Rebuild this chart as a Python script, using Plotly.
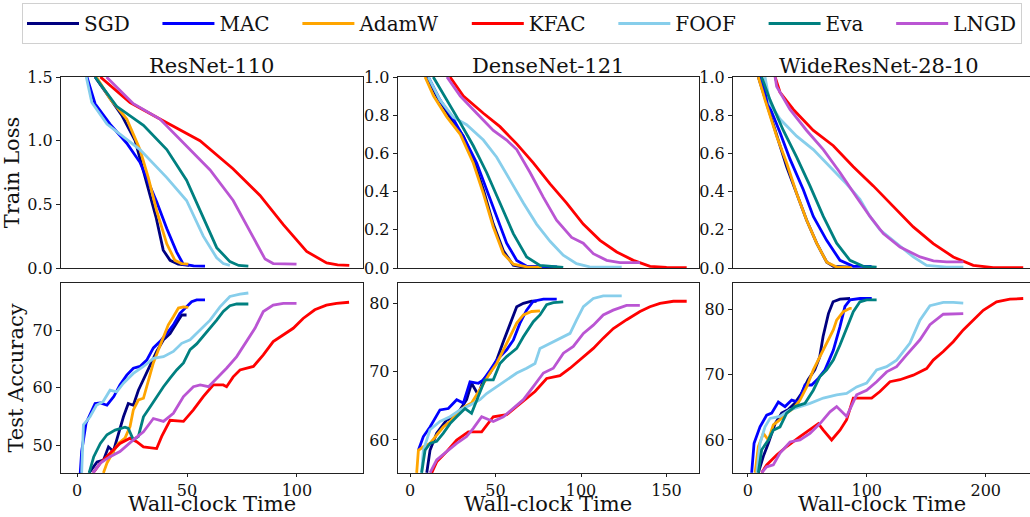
import plotly.graph_objects as go

# ---------------- data ----------------
METHODS = ["SGD", "MAC", "AdamW", "KFAC", "FOOF", "Eva", "LNGD"]
COLORS = ["#000080", "#0000ff", "#ffa500", "#ff0000", "#87ceeb", "#008080", "#ba55d3"]
MODELS = ["ResNet-110", "DenseNet-121", "WideResNet-28-10"]
X_TITLE = "Wall-clock Time"

# ResNet-110 train loss
resnet_loss = {
    "SGD": ([8.2, 15, 20.3, 26.4, 31.7, 35.9, 39.2, 42.3, 46, 51],
            [1.5, 1.33, 1.2, 1.0, 0.665, 0.40, 0.14, 0.06, 0.03, 0.02]),
    "MAC": ([4.5, 8.2, 15, 22.6, 28.6, 32.4, 36.2, 40.8, 45.3, 48.3, 53, 58.2],
            [1.5, 1.29, 1.13, 0.98, 0.83, 0.68, 0.52, 0.31, 0.125, 0.03, 0.017, 0.015]),
    "AdamW": ([8.8, 15, 22.6, 28.6, 32.4, 36.2, 40.8, 44.5, 47.5, 50.6],
              [1.5, 1.33, 1.17, 0.93, 0.71, 0.45, 0.19, 0.06, 0.035, 0.03]),
    "KFAC": ([10.6, 24.1, 37.7, 55.9, 70.9, 83.2, 93.8, 104.4, 113.5, 118.5, 123.8],
             [1.5, 1.3, 1.17, 1.0, 0.78, 0.57, 0.34, 0.13, 0.04, 0.025, 0.02]),
    "FOOF": ([4.2, 6.7, 13.6, 19.7, 28.6, 40.8, 49.8, 57.4, 63.5, 66.5, 69.5],
             [1.5, 1.3, 1.13, 1.05, 0.93, 0.71, 0.53, 0.25, 0.08, 0.035, 0.02]),
    "Eva": ([8.2, 18, 30.2, 40.8, 49.8, 57.4, 63.5, 69.5, 73.5, 77.9],
            [1.5, 1.27, 1.12, 0.93, 0.69, 0.40, 0.16, 0.05, 0.02, 0.015]),
    "LNGD": ([13.4, 25.6, 37.7, 49.8, 60.5, 71, 78.6, 85.5, 89.2, 99.8],
             [1.5, 1.29, 1.17, 0.96, 0.77, 0.53, 0.29, 0.07, 0.035, 0.03]),
}

# DenseNet-121 train loss
densenet_loss = {
    "SGD": ([9.7, 15.6, 23.4, 31.2, 37, 42.9, 48.7, 54.6, 60.4, 66.3, 74],
            [1.0, 0.90, 0.79, 0.69, 0.57, 0.41, 0.23, 0.09, 0.014, 0.005, 0.004]),
    "MAC": ([10.7, 17.5, 25.3, 32.2, 39, 44.8, 50.7, 56.5, 62.4, 68.2, 86],
            [1.0, 0.88, 0.78, 0.67, 0.55, 0.41, 0.27, 0.13, 0.04, 0.01, 0.006]),
    "AdamW": ([8.8, 13.8, 21.6, 29.4, 37, 42.9, 48.7, 54.6, 60.4, 68.2, 77],
              [1.0, 0.90, 0.79, 0.70, 0.55, 0.39, 0.215, 0.075, 0.02, 0.006, 0.005]),
    "KFAC": ([23.4, 31.2, 42.9, 52.6, 62.4, 72.1, 81.9, 91.6, 101.3, 111.1, 120.9, 130.6, 140.4, 150, 161.8],
             [1.0, 0.90, 0.81, 0.74, 0.65, 0.55, 0.44, 0.34, 0.23, 0.145, 0.084, 0.04, 0.009, 0.003, 0.002]),
    "FOOF": ([10.7, 17.5, 25.3, 33.1, 42.9, 50.7, 58.5, 66.3, 74, 81.9, 89.6, 97.4, 105, 123.8],
             [1.0, 0.88, 0.79, 0.75, 0.67, 0.58, 0.46, 0.34, 0.23, 0.14, 0.067, 0.023, 0.006, 0.005]),
    "Eva": ([13.6, 21.6, 29.4, 37, 44.8, 52.6, 60.4, 68.2, 76, 89.6],
            [1.0, 0.88, 0.76, 0.64, 0.50, 0.34, 0.18, 0.058, 0.014, 0.003]),
    "LNGD": ([21.6, 29.4, 39, 48.7, 56.5, 62.4, 70.2, 78, 85.7, 94.5, 101.3, 107.2, 115, 122.8, 134.5],
             [1.0, 0.90, 0.81, 0.72, 0.67, 0.62, 0.50, 0.37, 0.25, 0.16, 0.13, 0.075, 0.04, 0.028, 0.028]),
}

# WideResNet-28-10 train loss
wrn_loss = {
    "SGD": ([8.9, 16, 24.3, 32.7, 41.1, 49.5, 57.9, 66.4, 72, 86],
            [1.0, 0.86, 0.69, 0.53, 0.39, 0.25, 0.13, 0.03, 0.009, 0.005]),
    "MAC": ([10.3, 17.3, 27.1, 35.5, 46.7, 55.1, 66.3, 77.5, 88.7, 104],
            [1.0, 0.86, 0.71, 0.57, 0.41, 0.27, 0.145, 0.04, 0.009, 0.009]),
    "AdamW": ([8.9, 14.5, 24.3, 32.7, 41.1, 49.5, 57.9, 66.4, 74.8, 87.4],
              [1.0, 0.88, 0.69, 0.55, 0.39, 0.25, 0.13, 0.03, 0.005, 0.002]),
    "KFAC": ([23, 27.1, 38.3, 55.1, 71.9, 88.7, 105.5, 122.3, 139.1, 155.9, 172.7, 189.5, 206.3, 231.5],
             [1.0, 0.92, 0.83, 0.72, 0.64, 0.53, 0.43, 0.32, 0.215, 0.128, 0.058, 0.014, 0.002, 0.002]),
    "FOOF": ([14.5, 18.7, 27.1, 41.1, 55.1, 69.1, 83.1, 94.3, 102.7, 111.1, 125.1, 139.1, 150.3, 167, 181.2],
             [1.0, 0.86, 0.78, 0.69, 0.62, 0.53, 0.44, 0.36, 0.27, 0.20, 0.13, 0.058, 0.014, 0.005, 0.005]),
    "Eva": ([11.7, 18.7, 29.9, 41.1, 52.3, 63.5, 74.7, 85.9, 97.1, 108.3],
            [1.0, 0.88, 0.72, 0.58, 0.43, 0.27, 0.13, 0.04, 0.009, 0.005]),
    "LNGD": ([23, 24.3, 35.5, 49.5, 63.5, 77.5, 91.5, 102.7, 113.9, 128, 144.8, 156, 167.2, 181.2],
             [1.0, 0.95, 0.83, 0.72, 0.62, 0.50, 0.37, 0.27, 0.18, 0.11, 0.058, 0.037, 0.032, 0.032]),
}

# ResNet-110 test accuracy
resnet_acc = {
    "SGD": ([5.5, 9.1, 12, 14.3, 16.5, 18.8, 21.1, 23.3, 25.6, 27.9, 30.2, 33.2, 36.2, 39.3, 42.3, 45.3, 47.6, 49.8],
            [45.3, 47.2, 47.5, 49.8, 49.0, 52.1, 55.0, 57.3, 57.0, 59.6, 61.4, 63.7, 66.3, 68.3, 69.4, 71.2, 72.6, 72.6]),
    "MAC": ([1.4, 2.1, 4.1, 8.2, 10.6, 13.6, 16.7, 19.5, 22.6, 25.6, 28.6, 31.7, 34.7, 37.7, 40.8, 43.8, 46.8, 49.8, 52.1, 54.4, 58.2],
            [45.0, 49.0, 53.9, 57.3, 57.4, 57.0, 58.5, 60.5, 62.2, 63.4, 63.7, 64.8, 66.9, 68.0, 69.4, 70.9, 72.9, 74.0, 74.9, 75.2, 75.2]),
    "AdamW": ([12, 13.6, 16.5, 18.8, 21.8, 24.1, 25.6, 27.9, 30.2, 32.4, 34.7, 37, 39.3, 41.5, 43.8, 46.1, 48.4, 50.6],
              [45.3, 47.0, 49.0, 50.4, 51.3, 53.3, 56.2, 57.9, 58.2, 61.4, 64.3, 66.6, 68.9, 70.9, 72.3, 73.8, 74.0, 73.9]),
    "KFAC": ([7.3, 10.6, 15, 19.5, 24.1, 27.1, 30.2, 36.2, 38.5, 42.3, 48.4, 52.9, 57.4, 61.9, 66.5, 68, 71, 74.1, 80.2, 84.7, 89.2, 93.8, 98.3, 102.8, 108.1, 113.4, 118, 123.7],
             [45.3, 47.0, 48.7, 50.4, 51.3, 50.7, 49.8, 49.5, 51.6, 54.4, 54.2, 56.2, 58.5, 60.5, 60.5, 60.2, 61.9, 63.1, 63.7, 65.7, 68.0, 69.2, 70.3, 72.0, 73.5, 74.3, 74.6, 74.8]),
    "FOOF": ([2.1, 2.9, 5.9, 8.8, 11.8, 15, 18, 21.1, 25.6, 30.2, 34.7, 39.3, 43.8, 47.6, 51.4, 56, 60.5, 65, 69.5, 74.1, 77.9],
             [45.3, 53.6, 55.0, 57.0, 57.6, 59.6, 59.3, 60.8, 62.5, 63.7, 65.1, 65.4, 66.3, 67.7, 68.3, 70.0, 71.7, 74.0, 75.8, 76.2, 76.4]),
    "Eva": ([5.5, 7.6, 10.6, 13.6, 17.3, 21.8, 23.3, 25.6, 27.9, 30.2, 33.2, 36.2, 39.3, 42.3, 45.3, 48.4, 51.4, 54.4, 57.4, 60.5, 63.5, 66.5, 69.5, 72.6, 77.9],
            [45.3, 48.1, 50.4, 51.9, 52.7, 53.2, 53.0, 51.0, 51.6, 55.0, 56.7, 58.5, 60.2, 61.7, 63.1, 64.3, 66.6, 67.6, 68.9, 70.3, 71.7, 73.2, 74.2, 74.5, 74.5]),
    "LNGD": ([7.3, 10.6, 15, 19.5, 25.6, 30.2, 34.7, 39.3, 43.8, 48.4, 52.9, 56, 59.8, 63.5, 68, 72.6, 77.1, 80.9, 84.7, 89.2, 93.8, 99.8],
             [45.3, 47.0, 48.1, 49.0, 51.0, 52.4, 54.7, 54.2, 55.6, 58.5, 60.2, 60.5, 60.2, 61.6, 63.4, 65.4, 68.0, 70.3, 73.2, 74.3, 74.6, 74.6]),
}

# DenseNet-121 test accuracy
densenet_acc = {
    "SGD": ([9.8, 11.7, 15.6, 21.4, 25.3, 29.2, 33.1, 36, 39.9, 42.9, 46.8, 50.7, 54.6, 58.5, 62.4, 66.3, 71.1, 74],
            [55.2, 58.5, 61.0, 62.9, 63.4, 64.4, 65.9, 68.3, 66.6, 68.8, 69.8, 71.7, 74.4, 77.1, 79.5, 80.0, 80.3, 80.3]),
    "MAC": ([4.9, 7.8, 11.7, 17.5, 22.4, 27.3, 31.2, 35.1, 40, 42.9, 46.8, 50.7, 56.5, 60.4, 64.3, 68.2, 72.1, 78, 85.8],
            [58.5, 60.5, 61.9, 64.4, 64.6, 65.9, 65.4, 68.5, 68.3, 68.8, 70.2, 71.7, 73.2, 74.6, 77.1, 79.0, 80.3, 80.6, 80.6]),
    "AdamW": ([3.9, 4.9, 7.8, 11.7, 15.6, 19.5, 23.4, 27.3, 32.2, 36, 38.9, 42.9, 46.8, 50.7, 54.6, 58.5, 62.4, 66.3, 71.1, 76],
              [55.2, 58.5, 59.0, 59.5, 60.7, 61.9, 62.7, 63.9, 64.9, 65.4, 66.6, 68.3, 69.8, 71.2, 73.2, 75.1, 77.1, 78.3, 78.8, 78.9]),
    "KFAC": ([12.7, 15.6, 21.4, 27.3, 34.1, 41.9, 48.7, 56.5, 62.4, 68.2, 73.1, 79.9, 87.7, 93.6, 101.4, 107.2, 113, 118.9, 126.7, 134.5, 140.3, 146.2, 154, 161.8],
             [55.2, 56.8, 58.3, 60.0, 61.2, 61.2, 63.4, 63.7, 64.9, 66.1, 67.1, 69.0, 69.4, 70.5, 72.2, 73.4, 74.9, 76.3, 77.6, 78.8, 79.5, 80.0, 80.3, 80.3]),
    "FOOF": ([6.8, 7.8, 11.7, 17.5, 23.4, 29.2, 35.1, 40.9, 44.8, 50.7, 56.5, 62.4, 68.2, 73.1, 76, 81.9, 87.7, 93.6, 97.5, 101.4, 107.2, 113, 118.8, 123.8],
             [55.2, 58.5, 61.5, 62.7, 63.4, 64.4, 65.1, 65.9, 66.8, 67.8, 68.8, 69.8, 70.5, 71.2, 73.4, 74.1, 74.9, 75.6, 77.6, 79.5, 80.7, 81.1, 81.1, 81.1]),
    "Eva": ([6.8, 8.8, 11.7, 15.6, 19.5, 23.4, 27.3, 32.2, 36, 40, 43.8, 48.7, 52.6, 56.5, 62.4, 66.3, 72.1, 76, 79.9, 83.8, 89.6],
            [55.2, 58.5, 59.5, 59.8, 61.0, 62.4, 63.4, 64.6, 63.9, 66.3, 68.8, 68.8, 71.2, 72.2, 73.4, 75.1, 77.3, 78.3, 79.8, 80.1, 80.2]),
    "LNGD": ([11.7, 15.6, 21.4, 27.3, 33.1, 37, 41.9, 48.7, 54.6, 60.4, 66.3, 72.1, 78, 83.8, 89.7, 95.5, 101.4, 107.2, 113, 118.8, 126.6, 134.4],
             [55.2, 57.1, 58.3, 59.5, 60.5, 61.7, 63.4, 62.7, 63.4, 64.6, 65.9, 67.8, 69.8, 70.5, 72.7, 73.7, 75.6, 76.8, 78.3, 79.0, 79.7, 79.7]),
}

# WideResNet-28-10 test accuracy
wrn_acc = {
    "SGD": ([8.9, 13.1, 17.3, 23, 28.5, 33.9, 39.5, 45.1, 50.7, 56.3, 60.5, 63.3, 67.8, 71.7, 77.5, 86],
            [55.0, 57.5, 59.5, 62.5, 64.1, 64.6, 65.6, 67.1, 69.2, 70.7, 72.7, 75.8, 79.3, 81.1, 81.5, 81.6]),
    "MAC": ([3.3, 5.3, 10.3, 15.9, 20.1, 25.7, 31.3, 36.9, 42.5, 48.1, 53.7, 59.3, 64.9, 71.9, 77.5, 81.7, 86, 94.4, 104.2],
            [55.0, 59.5, 62.0, 63.8, 64.1, 65.8, 65.1, 66.1, 65.8, 68.4, 68.4, 69.4, 70.7, 73.7, 77.3, 80.4, 81.4, 81.6, 81.6]),
    "AdamW": ([6.2, 8.9, 13.1, 17.3, 21.5, 27.1, 32.7, 38.3, 43.9, 49.5, 55.1, 60.7, 66.3, 71.9, 74.7, 80.3, 85.9, 87.3],
              [55.0, 59.0, 61.0, 60.0, 62.3, 63.1, 64.1, 64.8, 66.1, 68.1, 70.7, 72.7, 74.8, 76.8, 78.3, 79.6, 80.1, 80.1]),
    "KFAC": ([11.7, 15.9, 24.3, 32.7, 43.9, 55.1, 59.3, 63.5, 70.5, 77.5, 83.1, 88.7, 95.7, 104.1, 111.1, 119.5, 127.9, 139.1, 150.3, 155.9, 164.3, 172.7, 181.1, 189.5, 197.9, 209.1, 220.3, 231.5],
             [55.0, 56.2, 57.7, 59.0, 60.5, 62.0, 62.5, 61.5, 60.0, 61.5, 63.1, 66.4, 66.4, 66.4, 67.4, 68.9, 69.2, 69.9, 70.9, 72.2, 73.5, 75.0, 76.8, 78.3, 79.8, 81.1, 81.5, 81.6]),
    "FOOF": ([7.6, 10.3, 14.5, 18.7, 27.1, 35.5, 43.9, 52.3, 63.5, 74.7, 83.1, 91.5, 99.9, 108.3, 116.7, 125.1, 136.3, 144.7, 153.1, 164.3, 172.7, 181.1],
             [55.0, 59.5, 62.0, 63.3, 63.6, 64.6, 65.1, 65.6, 66.4, 66.9, 67.1, 68.1, 68.7, 70.7, 71.2, 72.2, 74.8, 78.3, 80.5, 81.0, 81.0, 80.9]),
    "Eva": ([8.9, 11.7, 17.3, 21.5, 27.1, 32.7, 39.7, 48.1, 55.1, 60.7, 66.3, 71.9, 77.5, 83.1, 88.7, 94.3, 99.9, 108.3],
            [55.0, 58.5, 60.0, 61.5, 62.0, 64.1, 65.1, 65.6, 67.6, 69.7, 70.7, 72.2, 74.5, 77.0, 79.6, 81.1, 81.4, 81.4]),
    "LNGD": ([11.7, 15.9, 21.5, 27.1, 35.5, 43.9, 52.3, 60.7, 69.1, 74.7, 83.1, 91.5, 99.9, 108.3, 116.7, 125.1, 133.5, 144.7, 153.1, 164.3, 181.1],
             [55.0, 55.9, 56.2, 58.0, 59.7, 60.0, 61.0, 62.5, 64.3, 65.1, 63.6, 66.9, 67.6, 68.9, 70.4, 71.2, 73.0, 75.3, 77.6, 79.2, 79.3]),
}

LOSS_PANELS = [resnet_loss, densenet_loss, wrn_loss]
ACC_PANELS = [resnet_acc, densenet_acc, wrn_acc]

X_RANGES = [[-7.3, 129.9], [-7.2, 169.0], [-12.4, 237.2]]
LOSS_RANGES = [[0, 1.5], [0, 1.0], [0, 1.0]]
ACC_RANGES = [[45.28, 78.13], [55.17, 82.97], [54.96, 83.97]]
LOSS_TICKS = [[0, 0.5, 1.0, 1.5], [0, 0.2, 0.4, 0.6, 0.8, 1.0], [0, 0.2, 0.4, 0.6, 0.8, 1.0]]
ACC_TICKS = [[50, 60, 70], [60, 70, 80], [60, 70, 80]]
X_TICKS = [[0, 50, 100], [0, 50, 100, 150], [0, 100, 200]]

# ---------------- layout geometry ----------------
W, H = 1030, 517
COL_PX = [(61, 362.7), (397.7, 699), (733, 1030)]
TOP_ROW_PX = (77, 268)
BOT_ROW_PX = (283, 473)

def xdom(c):
    return [COL_PX[c][0] / W, min(COL_PX[c][1] / W, 1.0)]

def ydom(r):
    return [1 - r[1] / H, 1 - r[0] / H]

FONT = "DejaVu Serif"
PAD = "\u00a0\u00a0\u2002"
fig = go.Figure()

for c in range(3):
    top_idx = c + 1
    bot_idx = c + 4
    for i, (m, col) in enumerate(zip(METHODS, COLORS)):
        label = m + (PAD if i < len(METHODS) - 1 else "")
        xs, ys = LOSS_PANELS[c][m]
        fig.add_trace(go.Scatter(
            x=xs, y=ys, mode="lines", name=label, legendgroup=m,
            showlegend=(c == 0), line=dict(color=col, width=2.8),
            xaxis=f"x{top_idx}", yaxis=f"y{top_idx}"))
        xs, ys = ACC_PANELS[c][m]
        fig.add_trace(go.Scatter(
            x=xs, y=ys, mode="lines", name=m, legendgroup=m,
            showlegend=False, line=dict(color=col, width=2.8),
            xaxis=f"x{bot_idx}", yaxis=f"y{bot_idx}"))

axis_common = dict(showline=True, mirror=True, linecolor="#222", linewidth=1,
                   showgrid=False, zeroline=False, automargin=False,
                   tickfont=dict(family=FONT, size=16, color="#111"))
layout = {}
for c in range(3):
    t = c + 1
    b = c + 4
    sx = "" if t == 1 else str(t)
    layout[f"xaxis{sx}"] = dict(axis_common, domain=xdom(c), range=X_RANGES[c],
                                anchor=f"y{sx}", showticklabels=False, ticks="")
    layout[f"yaxis{sx}"] = dict(axis_common, domain=ydom(TOP_ROW_PX), range=LOSS_RANGES[c],
                                anchor=f"x{sx}", tickvals=LOSS_TICKS[c], tickformat=".1f",
                                ticks="outside", ticklen=4, tickcolor="#222")
    layout[f"xaxis{b}"] = dict(axis_common, domain=xdom(c), range=X_RANGES[c],
                               anchor=f"y{b}", tickvals=X_TICKS[c], ticks="outside",
                               ticklen=3, tickcolor="#222")
    layout[f"yaxis{b}"] = dict(axis_common, domain=ydom(BOT_ROW_PX), range=ACC_RANGES[c],
                               anchor=f"x{b}", tickvals=ACC_TICKS[c], ticks="outside",
                               ticklen=4, tickcolor="#222")

layout["yaxis"]["title"] = dict(text="Train Loss", standoff=3,
                                font=dict(family=FONT, size=21, color="#111"))
layout["yaxis4"]["title"] = dict(text="Test Accuracy", standoff=3,
                                 font=dict(family=FONT, size=21, color="#111"))

annotations = []
TITLE_CX = [211.5, 548, 879]
for c in range(3):
    annotations.append(dict(text=MODELS[c], x=TITLE_CX[c] / W, y=1 - 80 / H,
                            xref="paper", yref="paper",
                            xanchor="center", yanchor="bottom", showarrow=False,
                            font=dict(family=FONT, size=21, color="#111")))
    # x-axis title, centred under each bottom panel, sitting on the page bottom
    annotations.append(dict(text=X_TITLE, x=0.5, xref=f"x{c + 4} domain",
                            y=0, yref="paper",
                            xanchor="center", yanchor="bottom", showarrow=False,
                            borderpad=0,
                            font=dict(family=FONT, size=21, color="#111")))

fig.update_layout(
    **layout,
    annotations=annotations,
    width=W, height=H,
    margin=dict(l=0, r=0, t=0, b=0, autoexpand=False),
    paper_bgcolor="white", plot_bgcolor="white",
    font=dict(family=FONT, color="#111"),
    showlegend=True,
    legend=dict(orientation="h", x=22 / W, xanchor="left", y=1 - 3 / H, yanchor="top",
                font=dict(family=FONT, size=20, color="#111"),
                bordercolor="#d0d0d0", borderwidth=1, bgcolor="white",
                itemwidth=52, tracegroupgap=0),
)

fig.write_html("out.html", config={"displayModeBar": False},
               post_script="document.body.style.margin='0';document.body.style.overflow='hidden';")
